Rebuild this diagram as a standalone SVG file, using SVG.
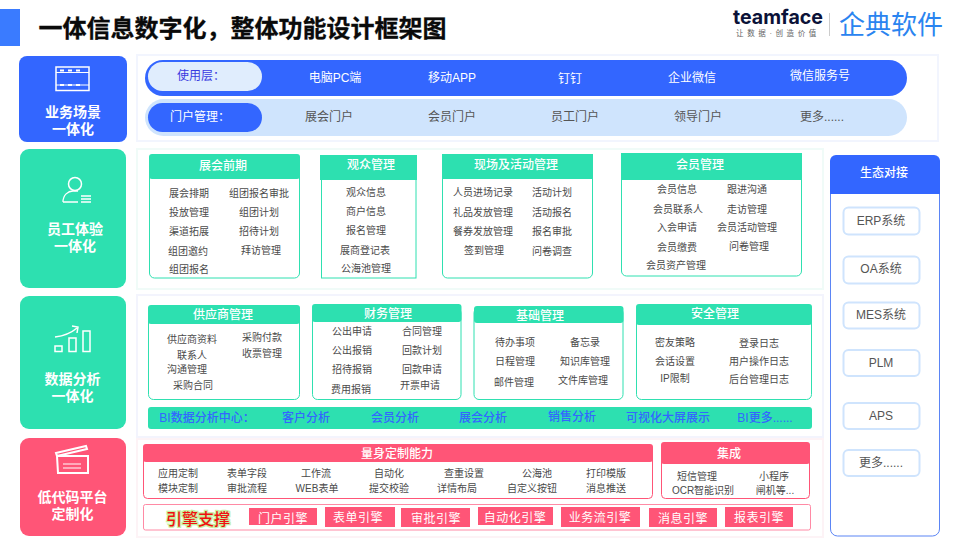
<svg xmlns="http://www.w3.org/2000/svg" width="964" height="541" viewBox="0 0 964 541">
<style>
text{font-family:"Liberation Sans","Noto Sans CJK SC",sans-serif;text-anchor:middle;dominant-baseline:central}
.i{font-size:10px;fill:#4a4a4a}
.h{font-size:12px;fill:#fff;font-weight:500}
.l{font-size:14px;fill:#fff;font-weight:700}
.w{font-size:12px;fill:#fff}
.g{font-size:12px;fill:#555}
.e{font-size:12px;fill:#555}
.b{font-size:12px;fill:#3366ff;font-weight:500}
.t{font-size:12px;fill:#fff;letter-spacing:.5px}
.p{fill:#fff;stroke-width:2}
.gc{fill:#fff;stroke:#2fe0b0;stroke-width:1}
.gh{fill:#2de0b0}
.pc{fill:#fff;stroke:#ff5577;stroke-width:1}
.ph{fill:#ff5577}
.eb{fill:#fff;stroke:#cfe4fd;stroke-width:2}
.ic{fill:none;stroke:#fff;stroke-width:1.5}
</style>
<g id="title">
<rect x="0" y="9" width="20" height="37" fill="#3a7bff"/>
<text x="242.500" y="28" style="font-size:24px;font-weight:700;fill:#0a0a0a;stroke:#0a0a0a;stroke-width:.3px">一体信息数字化，整体功能设计框架图</text>
</g>
<g id="logo">
<text x="778" y="16.700" style="font-family:Inter,Lato,sans-serif;font-size:20px;font-weight:700;fill:#0b1238" textLength="90" lengthAdjust="spacingAndGlyphs">teamface</text>
<text x="778" y="33" style="font-size:7.500px;fill:#666;letter-spacing:3.600px">让数据·创造价值</text>
<rect x="829" y="13" width="1" height="23" fill="#ccc"/>
<text x="891" y="24.500" style="font-size:26px;fill:#2a84f0;font-weight:400">企典软件</text>
</g>
<g id="panels">
<rect x="137" y="55" width="801" height="86" class="p" stroke="#f2f5fe"/>
<rect x="137" y="149" width="686" height="140" class="p" stroke="#f0fbf8"/>
<rect x="137" y="295" width="686" height="142" class="p" stroke="#f3f4fd"/>
<rect x="137" y="439" width="686" height="98" class="p" stroke="#fdf3f6"/>
</g>
<g id="scene-business">
<rect x="19" y="56" width="108" height="86" rx="8" fill="#3366ff"/>
<rect x="56" y="67" width="33" height="23.500" class="ic"/>
<path d="M56 72.500H89M56 85H89" class="ic" style="stroke-width:1"/>
<path d="M60 69.500h4v2h-4zM68 69.500h4v2h-4zM76 69.500h4v2h-4zM60 84h4v2h-4zM68 84h4v2h-4zM76 84h4v2h-4z" fill="#fff"/>
<text x="73" y="112" class="l">业务场景</text>
<text x="73" y="129" class="l">一体化</text>
</g>
<g id="scene-staff">
<rect x="20" y="149" width="106" height="139" rx="9" fill="#2de0b0"/>
<circle cx="75" cy="184" r="6.500" class="ic"/>
<path d="M63 202c0-7 5-11 10-11h5M63 202H78M81 196h10M81 199h10M81 202h10" class="ic" style="stroke-width:1.300"/>
<text x="75" y="229" class="l">员工体验</text>
<text x="75" y="246" class="l">一体化</text>
</g>
<g id="scene-data">
<rect x="20" y="296" width="106" height="133" rx="9" fill="#2de0b0"/>
<path d="M55 337c8-1 15-3 22-9M72 326l6 1-1 6" class="ic"/>
<rect x="55" y="346" width="7" height="5.500" class="ic"/>
<rect x="69" y="338" width="7" height="13.500" class="ic"/>
<rect x="83" y="331" width="7" height="20.500" class="ic"/>
<text x="72.500" y="379" class="l">数据分析</text>
<text x="72.500" y="396" class="l">一体化</text>
</g>
<g id="scene-lowcode">
<rect x="20" y="438" width="106" height="98" rx="9" fill="#ff5577"/>
<path d="M57 456H88V473H58ZM56 453L86 446L87 449L57 456Z" class="ic" style="stroke-width:2"/>
<path d="M63 464H81M63 468H81" class="ic" style="stroke-width:1"/>
<text x="72.500" y="497" class="l">低代码平台</text>
<text x="72.500" y="513.500" class="l">定制化</text>
</g>
<g id="use-layer">
<rect x="145" y="60" width="762" height="36" rx="18" fill="#3366ff"/>
<rect x="148" y="62" width="114" height="29" rx="14.500" fill="#e0edfd"/>
<text x="201" y="76" style="font-size:12px;fill:#3a3ae0">使用层：</text>
<text x="335" y="78" class="w">电脑PC端</text>
<text x="452" y="78" class="w">移动APP</text>
<text x="570" y="78.500" class="w">钉钉</text>
<text x="692" y="77.500" class="w">企业微信</text>
<text x="820" y="75.500" class="w">微信服务号</text>
</g>
<g id="portal-layer">
<rect x="145" y="99" width="762" height="37" rx="18.500" fill="#cfe4fd"/>
<rect x="148" y="103" width="114" height="29" rx="14.500" fill="#3366ff"/>
<text x="200" y="117" class="w">门户管理：</text>
<text x="329" y="117" class="g">展会门户</text>
<text x="452" y="117" class="g">会员门户</text>
<text x="575" y="117" class="g">员工门户</text>
<text x="698" y="117" class="g">领导门户</text>
<text x="822" y="117" class="g">更多......</text>
</g>
<g id="card-expo">
<rect x="149.500" y="155" width="150" height="123" rx="5" class="gc"/>
<rect x="149" y="154" width="151" height="25" rx="3" class="gh"/>
<text x="223" y="166" class="h">展会前期</text>
<text x="189" y="193" class="i">展会排期</text><text x="259" y="193" class="i">组团报名审批</text>
<text x="189" y="212" class="i">投放管理</text><text x="259" y="212" class="i">组团计划</text>
<text x="189" y="231" class="i">渠道拓展</text><text x="259" y="231" class="i">招待计划</text>
<text x="188" y="251" class="i">组团邀约</text><text x="261" y="250" class="i">拜访管理</text>
<text x="189" y="269" class="i">组团报名</text>
</g>
<g id="card-audience">
<rect x="321.500" y="160" width="94.500" height="118" class="gc"/>
<rect x="320" y="155" width="97" height="25" class="gh"/>
<text x="371" y="165" class="h">观众管理</text>
<text x="366" y="192" class="i">观众信息</text>
<text x="366" y="211" class="i">商户信息</text>
<text x="366" y="230" class="i">报名管理</text>
<text x="365" y="250" class="i">展商登记表</text>
<text x="366" y="268.500" class="i">公海池管理</text>
</g>
<g id="card-onsite">
<rect x="442.500" y="160" width="150" height="118" rx="5" class="gc"/>
<rect x="442" y="154" width="151" height="25" class="gh"/>
<text x="516" y="165" class="h">现场及活动管理</text>
<text x="483" y="192.500" class="i">人员进场记录</text><text x="552" y="192.500" class="i">活动计划</text>
<text x="483" y="212" class="i">礼品发放管理</text><text x="552" y="212" class="i">活动报名</text>
<text x="483" y="231" class="i">餐券发放管理</text><text x="552" y="231" class="i">报名审批</text>
<text x="484" y="250" class="i">签到管理</text><text x="552" y="251" class="i">问卷调查</text>
</g>
<g id="card-member">
<rect x="621.500" y="158" width="180" height="118" rx="5" class="gc"/>
<rect x="621" y="153" width="181" height="27" class="gh"/>
<text x="700" y="165" class="h">会员管理</text>
<text x="677" y="189" class="i">会员信息</text><text x="747" y="189" class="i">跟进沟通</text>
<text x="678" y="209" class="i">会员联系人</text><text x="747" y="209" class="i">走访管理</text>
<text x="677" y="227" class="i">入会申请</text><text x="747" y="227" class="i">会员活动管理</text>
<text x="677" y="247" class="i">会员缴费</text><text x="749" y="246" class="i">问卷管理</text>
<text x="676" y="265" class="i">会员资产管理</text>
</g>
<g id="ecosystem">
<rect x="830.500" y="156" width="109" height="380" rx="7" fill="#fff" stroke="#5b85f5" stroke-width="1"/>
<path d="M830 194V161a6 6 0 0 1 6-6H934a6 6 0 0 1 6 6V194Z" fill="#3366ff"/>
<text x="884" y="173" class="h">生态对接</text>
<rect x="843.500" y="207.500" width="76" height="27" rx="5" class="eb"/><text x="881" y="221" class="e">ERP系统</text>
<rect x="843.500" y="256.500" width="76" height="27" rx="5" class="eb"/><text x="881" y="268.500" class="e">OA系统</text>
<rect x="843.500" y="302.500" width="76" height="26" rx="5" class="eb"/><text x="881" y="314.500" class="e">MES系统</text>
<rect x="843.500" y="350" width="76" height="26" rx="5" class="eb"/><text x="881" y="362.500" class="e">PLM</text>
<rect x="843.500" y="403" width="76" height="26" rx="5" class="eb"/><text x="881" y="415.500" class="e">APS</text>
<rect x="843.500" y="450" width="76" height="26" rx="5" class="eb"/><text x="881" y="462.500" class="e">更多......</text>
</g>
<g id="card-supplier">
<rect x="148.500" y="308" width="151" height="91.500" rx="5" class="gc"/>
<rect x="148" y="305" width="152" height="19" rx="3" class="gh"/>
<text x="223" y="314.500" class="h">供应商管理</text>
<text x="192" y="339" class="i">供应商资料</text><text x="262" y="337" class="i">采购付款</text>
<text x="192" y="355" class="i">联系人</text><text x="262" y="353.500" class="i">收票管理</text>
<text x="187" y="369.500" class="i">沟通管理</text>
<text x="193" y="385.500" class="i">采购合同</text>
</g>
<g id="card-finance">
<rect x="312.500" y="308" width="148.500" height="91.500" rx="5" class="gc"/>
<rect x="312" y="304" width="149.500" height="18" rx="3" class="gh"/>
<text x="388" y="313.500" class="h">财务管理</text>
<text x="352" y="331.500" class="i">公出申请</text><text x="422" y="331.500" class="i">合同管理</text>
<text x="352" y="350.500" class="i">公出报销</text><text x="422" y="350.500" class="i">回款计划</text>
<text x="352" y="369.500" class="i">招待报销</text><text x="422" y="369.500" class="i">回款申请</text>
<text x="351" y="389.500" class="i">费用报销</text><text x="420" y="385.500" class="i">开票申请</text>
</g>
<g id="card-base">
<rect x="474" y="308" width="149" height="91.500" rx="5" class="gc"/>
<rect x="474" y="306" width="149.500" height="17" rx="3" class="gh"/>
<text x="540" y="315.500" class="h">基础管理</text>
<text x="515" y="342.500" class="i">待办事项</text><text x="585" y="342.500" class="i">备忘录</text>
<text x="515" y="361.500" class="i">日程管理</text><text x="585" y="361.500" class="i">知识库管理</text>
<text x="514" y="382" class="i">邮件管理</text><text x="583" y="380.500" class="i">文件库管理</text>
</g>
<g id="card-security">
<rect x="636.500" y="308" width="175" height="91.500" rx="5" class="gc"/>
<rect x="636" y="304" width="176" height="21" rx="3" class="gh"/>
<text x="715" y="313.500" class="h">安全管理</text>
<text x="675" y="342.500" class="i">密友策略</text><text x="759" y="343.500" class="i">登录日志</text>
<text x="675" y="361.500" class="i">会话设置</text><text x="759" y="361.500" class="i">用户操作日志</text>
<text x="675" y="378.500" class="i">IP限制</text><text x="759" y="379.500" class="i">后台管理日志</text>
</g>
<g id="bi-bar">
<rect x="148" y="407" width="664" height="22" rx="3" class="gh"/>
<text x="207" y="418" class="b">BI数据分析中心：</text>
<text x="306" y="418" class="b">客户分析</text>
<text x="395" y="418" class="b">会员分析</text>
<text x="483" y="418" class="b">展会分析</text>
<text x="572" y="417" class="b">销售分析</text>
<text x="668" y="418" class="b">可视化大屏展示</text>
<text x="765" y="418" class="b">BI更多......</text>
</g>
<g id="card-custom">
<rect x="143.500" y="446" width="509" height="52.500" rx="4" class="pc"/>
<rect x="143" y="444" width="510" height="18" rx="3" class="ph"/>
<text x="397" y="454" class="h">量身定制能力</text>
<text x="178" y="473.500" class="i">应用定制</text><text x="247" y="473.500" class="i">表单字段</text><text x="316" y="473.500" class="i">工作流</text><text x="389" y="473.500" class="i">自动化</text><text x="464" y="473.500" class="i">查重设置</text><text x="537" y="473.500" class="i">公海池</text><text x="606" y="473.500" class="i">打印模版</text>
<text x="178" y="488.500" class="i">模块定制</text><text x="247" y="488.500" class="i">审批流程</text><text x="317" y="488.500" class="i">WEB表单</text><text x="389" y="488.500" class="i">提交校验</text><text x="457" y="488.500" class="i">详情布局</text><text x="532" y="488.500" class="i">自定义按钮</text><text x="606" y="488.500" class="i">消息推送</text>
</g>
<g id="card-integration">
<rect x="661.500" y="446" width="148" height="52.500" rx="4" class="pc"/>
<rect x="661" y="442" width="149" height="22" rx="3" class="ph"/>
<text x="729" y="453.500" class="h">集成</text>
<text x="697" y="476" class="i">短信管理</text><text x="774" y="476" class="i">小程序</text>
<text x="703" y="490" class="i">OCR智能识别</text><text x="775" y="490" class="i">闸机等...</text>
</g>
<g id="engine">
<rect x="143.500" y="504.500" width="667" height="25.500" rx="2" fill="#fff" stroke="#ff8aa5"/>
<text x="198" y="519" style="font-size:16px;fill:#f01010;font-weight:500;stroke:#c5f0a0;stroke-width:2.500px;paint-order:stroke">引擎支撑</text>
<rect x="249" y="508" width="68" height="17" class="ph"/><text x="283" y="518.500" class="t">门户引擎</text>
<rect x="325" y="507" width="70" height="20" class="ph"/><text x="358" y="517.500" class="t">表单引擎</text>
<rect x="401" y="508" width="69" height="19" class="ph"/><text x="436" y="518.500" class="t">审批引擎</text>
<rect x="478" y="507" width="75" height="18" class="ph"/><text x="515" y="517.500" class="t">自动化引擎</text>
<rect x="561" y="507" width="79" height="20" class="ph"/><text x="600" y="517.500" class="t">业务流引擎</text>
<rect x="649" y="508" width="68" height="19" class="ph"/><text x="683" y="518.500" class="t">消息引擎</text>
<rect x="725" y="507" width="68" height="20" class="ph"/><text x="759" y="517.500" class="t">报表引擎</text>
</g>
</svg>
